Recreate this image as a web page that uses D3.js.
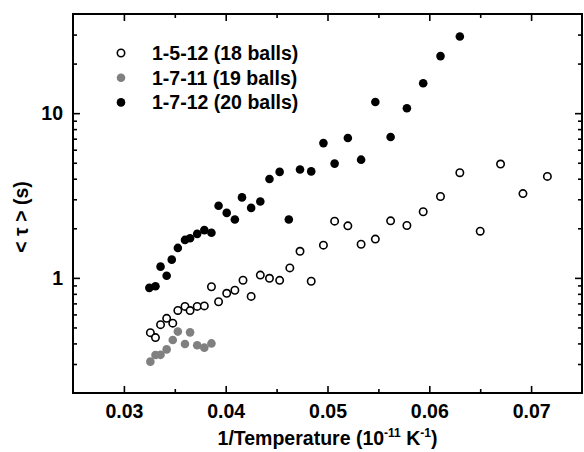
<!DOCTYPE html>
<html>
<head>
<meta charset="utf-8">
<script src="https://cdn.jsdelivr.net/npm/d3@7"></script>
<style>
  html, body { margin: 0; padding: 0; background: #fff; }
  svg text { font-family: 'Liberation Sans', Arial, Helvetica, sans-serif; font-weight: bold; }
</style>
</head>
<body>
<div id="chart"></div>
<script>
// 1-5-12 (18 balls), open circles
const openX = [0.0326, 0.0331, 0.0336, 0.0342, 0.0348, 0.0353, 0.0360, 0.0365, 0.0372, 0.0379, 0.0386, 0.0393,
  0.0401, 0.0409, 0.0417, 0.0425, 0.0434, 0.0443, 0.0453, 0.0463, 0.0473, 0.0484, 0.0496, 0.0507,
  0.0520, 0.0533, 0.0547, 0.0562, 0.0578, 0.0594, 0.0611, 0.0630, 0.0650, 0.0670, 0.0692, 0.0716];
const openY = [0.465, 0.434, 0.520, 0.568, 0.531, 0.634, 0.671, 0.633, 0.671, 0.676, 0.883, 0.716,
  0.806, 0.841, 0.967, 0.772, 1.04, 0.994, 0.966, 1.15, 1.45, 0.954, 1.58, 2.21,
  2.07, 1.60, 1.72, 2.22, 2.08, 2.52, 3.12, 4.35, 1.92, 4.91, 3.25, 4.13];

// 1-7-11 (19 balls), grey dots
const greyX = [0.0326, 0.0331, 0.0336, 0.0342, 0.0348, 0.0353, 0.0360, 0.0365, 0.0372, 0.0379, 0.0386];
const greyY = [0.310, 0.340, 0.341, 0.368, 0.420, 0.472, 0.397, 0.467, 0.390, 0.377, 0.400];

// 1-7-12 (20 balls), black dots
const blackX = [0.0325, 0.0331, 0.0336, 0.0342, 0.0347, 0.0353, 0.0360, 0.0365, 0.0372, 0.0379, 0.0386, 0.0393,
  0.0401, 0.0409, 0.0416, 0.0425, 0.0434, 0.0443, 0.0453, 0.0462, 0.0473, 0.0484, 0.0496, 0.0507,
  0.0520, 0.0533, 0.0547, 0.0562, 0.0578, 0.0594, 0.0611, 0.0630];
const blackY = [0.87, 0.89, 1.17, 1.03, 1.29, 1.52, 1.70, 1.74, 1.85, 1.95, 1.88, 2.74,
  2.48, 2.26, 3.08, 2.66, 2.91, 3.98, 4.40, 2.26, 4.55, 4.43, 6.58, 4.94,
  7.06, 5.22, 11.7, 7.16, 10.7, 15.2, 22.2, 29.2];

const xMajor = [0.03, 0.04, 0.05, 0.06, 0.07];
const xMinor = [0.035, 0.045, 0.055, 0.065];
const yMajor = [1, 10];
const yMinor = [0.3, 0.4, 0.5, 0.6, 0.7, 0.8, 0.9, 2, 3, 4, 5, 6, 7, 8, 9, 20, 30];

const seriesNames = ['1-5-12 (18 balls)', '1-7-11 (19 balls)', '1-7-12 (20 balls)'];

const W = 584, H = 452;
const margin = {top: 14, right: 2, bottom: 59, left: 73};
const fs = 19.5;

const x = d3.scaleLinear().domain([0.025, 0.075]).range([margin.left, W - margin.right]);
const y = d3.scaleLog().domain([0.2, 40]).range([H - margin.bottom, margin.top]);

const svg = d3.select('#chart').append('svg')
  .attr('width', W)
  .attr('height', H);

// ticks all point inward
const tickAxis = (axis, len, labels) => {
  axis.tickSizeInner(-len).tickSizeOuter(0);
  if (!labels) axis.tickFormat('');
  return axis;
};

const styleAxis = g => {
  g.select('.domain').remove();
  g.selectAll('.tick line').attr('stroke', '#000').attr('stroke-width', 1.6);
  g.selectAll('.tick text').attr('fill', '#000').style('font-size', fs + 'px');
};

const plotB = H - margin.bottom, plotT = margin.top;
const plotL = margin.left, plotR = W - margin.right;

svg.append('g').attr('transform', `translate(0,${plotB})`)
  .call(tickAxis(d3.axisBottom(x).tickValues(xMajor).tickFormat(d3.format('.2f')), 7, true).tickPadding(11))
  .call(styleAxis);
svg.append('g').attr('transform', `translate(0,${plotB})`)
  .call(tickAxis(d3.axisBottom(x).tickValues(xMinor), 4, false))
  .call(styleAxis);
svg.append('g').attr('transform', `translate(0,${plotT})`)
  .call(tickAxis(d3.axisTop(x).tickValues(xMajor), 7, false))
  .call(styleAxis);
svg.append('g').attr('transform', `translate(0,${plotT})`)
  .call(tickAxis(d3.axisTop(x).tickValues(xMinor), 4, false))
  .call(styleAxis);

svg.append('g').attr('transform', `translate(${plotL},0)`)
  .call(tickAxis(d3.axisLeft(y).tickValues(yMajor).tickFormat(d3.format('d')), 7, true).tickPadding(10))
  .call(styleAxis);
svg.append('g').attr('transform', `translate(${plotL},0)`)
  .call(tickAxis(d3.axisLeft(y).tickValues(yMinor), 4, false))
  .call(styleAxis);
svg.append('g').attr('transform', `translate(${plotR},0)`)
  .call(tickAxis(d3.axisRight(y).tickValues(yMajor), 7, false))
  .call(styleAxis);
svg.append('g').attr('transform', `translate(${plotR},0)`)
  .call(tickAxis(d3.axisRight(y).tickValues(yMinor), 4, false))
  .call(styleAxis);

// frame
svg.append('rect')
  .attr('x', plotL).attr('y', plotT)
  .attr('width', plotR - plotL).attr('height', plotB - plotT)
  .attr('fill', 'none').attr('stroke', '#000').attr('stroke-width', 2);

// points
const r = 4.3;
const plotSeries = (xs, ys, fill, stroke) => {
  svg.append('g').selectAll('circle')
    .data(xs.map((d, i) => ({x: d, y: ys[i]})))
    .enter().append('circle')
    .attr('cx', d => x(d.x))
    .attr('cy', d => y(d.y))
    .attr('r', fill === '#fff' ? r - 0.6 : r)
    .attr('fill', fill)
    .attr('stroke', stroke)
    .attr('stroke-width', fill === '#fff' ? 1.6 : 0);
};
plotSeries(openX, openY, '#fff', '#000');
plotSeries(greyX, greyY, '#808080', 'none');
plotSeries(blackX, blackY, '#000', 'none');

// legend
const legendStyles = [
  {fill: '#fff', stroke: '#000'},
  {fill: '#808080', stroke: 'none'},
  {fill: '#000', stroke: 'none'}
];
const legend = svg.append('g');
seriesNames.forEach((name, i) => {
  const ly = 53 + i * 24.7;
  const s = legendStyles[i];
  legend.append('circle')
    .attr('cx', 121).attr('cy', ly)
    .attr('r', s.fill === '#fff' ? r - 0.6 : r)
    .attr('fill', s.fill).attr('stroke', s.stroke)
    .attr('stroke-width', s.fill === '#fff' ? 1.6 : 0);
  legend.append('text')
    .attr('x', 152).attr('y', ly).attr('dy', '0.36em')
    .style('font-size', fs + 'px')
    .text(name);
});

// axis titles
const xt = svg.append('text')
  .attr('x', (plotL + plotR) / 2).attr('y', 445)
  .attr('text-anchor', 'middle')
  .style('font-size', fs + 'px');
xt.append('tspan').text('1/Temperature (10');
xt.append('tspan').attr('dy', -8).style('font-size', '12px').text('-11');
xt.append('tspan').attr('dy', 8).text(' K');
xt.append('tspan').attr('dy', -8).style('font-size', '12px').text('-1');
xt.append('tspan').attr('dy', 8).text(')');

svg.append('text')
  .attr('transform', 'translate(28,217) rotate(-90)')
  .attr('text-anchor', 'middle')
  .style('font-size', fs + 'px')
  .text('< τ > (s)');
</script>
</body>
</html>
